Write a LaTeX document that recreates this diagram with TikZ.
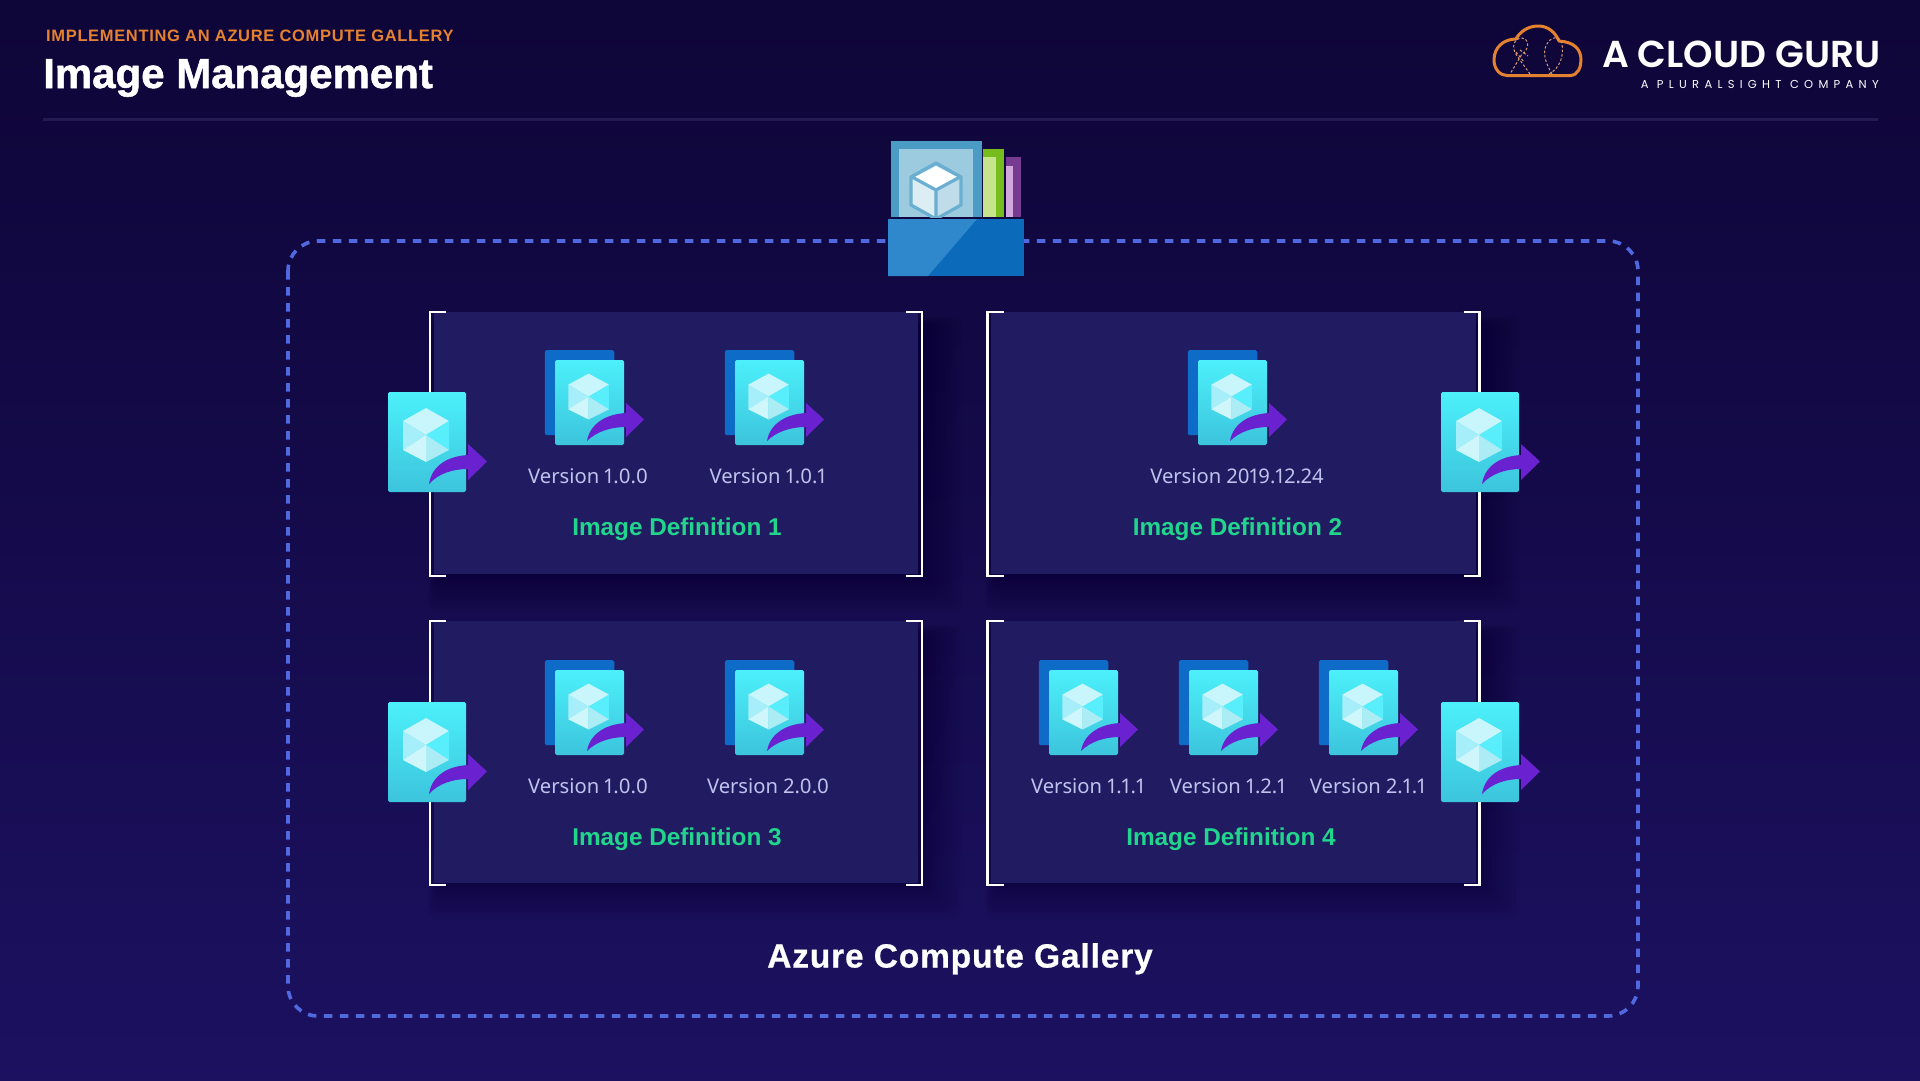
\documentclass[tikz,border=0pt]{standalone}
\usepackage{fontspec}
\setmainfont{Noto Sans}[Numbers=Proportional]
\newfontfamily\boldsans{Liberation Sans Bold}
\newfontfamily\gallfont{Liberation Sans Bold}[LetterSpace=2.5,FakeBold=0.6]
\newfontfamily\subfont{Liberation Sans Bold}[LetterSpace=4]
\newfontfamily\titlefont{Liberation Sans Bold}[LetterSpace=0,FakeBold=1.2]
\newfontfamily\logofont{Poppins SemiBold}
\newfontfamily\spacedfont{Poppins}[LetterSpace=46]
\usetikzlibrary{calc}
\definecolor{bgtop}{HTML}{0E0538}
\definecolor{bgbot}{HTML}{1C1160}
\definecolor{boxfill}{HTML}{211C62}
\definecolor{dashblue}{HTML}{5068E0}
\definecolor{orangeacg}{HTML}{E5822F}
\definecolor{greenlbl}{HTML}{22D58C}
\definecolor{verlbl}{HTML}{C0C2EE}
\definecolor{arrowpurple}{HTML}{6A22D0}
\definecolor{ruleclr}{HTML}{221C52}
\definecolor{icontop}{HTML}{4CF0FB}
\definecolor{iconbot}{HTML}{3CC4DC}
\definecolor{stackback}{HTML}{0F6BC8}
\definecolor{facea}{HTML}{C8F6FC}
\definecolor{faceb}{HTML}{A6EFFA}
\definecolor{facec}{HTML}{58EEFB}
\definecolor{faced}{HTML}{CFF7FB}
\definecolor{facee}{HTML}{ACEDF5}
\definecolor{galA}{HTML}{4A9CC4}
\definecolor{galB}{HTML}{9CCBE0}
\definecolor{galL}{HTML}{DCEDF4}
\definecolor{galR}{HTML}{BFDCEA}
\definecolor{galS}{HTML}{6AAED0}
\definecolor{galGreen}{HTML}{76BC1D}
\definecolor{galGreenL}{HTML}{C6E48B}
\definecolor{galPurple}{HTML}{773A91}
\definecolor{galPurpleL}{HTML}{D4A6DE}
\definecolor{galBlue}{HTML}{0B6ABA}
\definecolor{galBlueL}{HTML}{2F87CC}
\tikzset{
  versionlbl/.style={font=\fontsize{20.2}{24}\selectfont, text=verlbl, inner sep=0pt, anchor=base},
  deflbl/.style={font=\fontsize{24.3}{28}\boldsans, text=greenlbl, inner sep=0pt, anchor=base},
  bracket/.style={draw=white, line width=2.4pt},
  iconbody/.pic={
    \path[rounded corners=1.6pt, top color=icontop, bottom color=iconbot]
      (0,0) rectangle (78,100);
    \fill[facea] (38,16) -- (61,29) -- (38,43) -- (15,29) -- cycle;
    \fill[faceb] (15,29) -- (38,43) -- (15,58) -- cycle;
    \fill[facec] (61,29) -- (38,43) -- (61,58) -- cycle;
    \fill[faced] (15,58) -- (38,43) -- (38,70) -- cycle;
    \fill[facee] (61,58) -- (38,43) -- (38,70) -- cycle;
  },
  imgicon/.pic={
    \pic {iconbody};
    \fill[arrowpurple] (41,92) .. controls (44,72) and (62,64) .. (80,63)
      -- (80,52) -- (99,69.5) -- (80,88) -- (80,77) .. controls (64,77) and (50,82) .. cycle;
  },
  imgstack/.pic={
    \fill[rounded corners=1.6pt, fill=stackback] (-11.5,-11.5) rectangle (67,88.5);
    \pic {iconbody};
    \begin{scope}[x=1pt,y=-1pt]
    \fill[arrowpurple] (32,81) .. controls (35,63) and (52,54) .. (71,53)
      -- (71,43) -- (89,59.5) -- (71,77) -- (71,67) .. controls (55,67) and (41,72) .. cycle;
    \end{scope}
  },
}
\newcommand{\softbox}[2]{%
  \foreach \i in {1,...,10}{\fill[black, opacity=.017, rounded corners=8pt]
    ($(#1,#2)+(-\i*1+8,-\i*1+14)$) rectangle ($(#1,#2)+(492+\i*4,264+\i*3.5)$);}
  \fill[boxfill] (#1+3.5,#2) rectangle (#1+488,#2+262);
  \draw[bracket] (#1+16,#2) -- (#1,#2) -- (#1,#2+264) -- (#1+16,#2+264);
  \draw[bracket] (#1+476,#2) -- (#1+492,#2) -- (#1+492,#2+264) -- (#1+476,#2+264);
}
\begin{document}
\begin{tikzpicture}[x=1pt,y=-1pt]
\useasboundingbox (0,0) rectangle (1920,1080);
\shade[top color=bgtop, bottom color=bgbot] (0,0) rectangle (1920,1080);

% header
\node[anchor=base west, inner sep=0pt, text=orangeacg, font=\fontsize{16.5}{20}\subfont] (subtitle) at (46,41) {IMPLEMENTING AN AZURE COMPUTE GALLERY};
\node[anchor=base west, inner sep=0pt, text=white, font=\fontsize{42}{46}\titlefont] (title) at (43,88) {Image Management};
\draw[draw=ruleclr, line width=3pt] (43,119.5) -- (1878,119.5);

% logo
\draw[orangeacg, line width=3pt, line join=round]
  (1507,75.5) -- (1570,75.5) .. controls (1578,75.5) and (1581,67) .. (1581,60)
  .. controls (1581,49) and (1574,42) .. (1559,41)
  .. controls (1555,32) and (1548,26) .. (1538,26)
  .. controls (1527,26) and (1519,33) .. (1516,39)
  .. controls (1504,39) and (1494,47) .. (1494,60)
  .. controls (1494,69) and (1500,75.5) .. (1507,75.5) -- cycle;
\draw[orangeacg!65!verlbl, line width=1pt, dash pattern=on 2.5pt off 2pt]
  (1552,74) .. controls (1545,62) and (1541,50) .. (1549,41) .. controls (1554,36) and (1560,36) .. (1562,44) .. controls (1564,56) and (1560,68) .. (1549,74);
\draw[orangeacg!65!verlbl, line width=1pt, dash pattern=on 2.5pt off 2pt]
  (1530,74) -- (1517,56) .. controls (1510,46) and (1515,38) .. (1522,38) .. controls (1530,39) and (1529,50) .. (1522,54) -- (1510,74)
  (1520,50) -- (1528,56) (1516,52) -- (1524,62);
\node[anchor=base east, inner sep=0pt, text=white, font=\fontsize{37.5}{40}\logofont] (logo) at (1880.5,67.5) {A CLOUD GURU};
\node[anchor=base east, inner sep=0pt, text=white, font=\fontsize{11.5}{14}\spacedfont] (logosub) at (1879,88) {A PLURALSIGHT COMPANY};

% gallery outline
\draw[dashblue, line width=3.6pt, dash pattern=on 8.5pt off 7.5pt, rounded corners=30pt] (288,241) rectangle (1638,1016);

% boxes
\softbox{430}{312}
\softbox{987.5}{312}
\softbox{430}{621}
\softbox{987.5}{621}

% gallery icon
\fill[fill=galA] (891,141) rectangle (982,217);
\fill[fill=galB] (899,149) rectangle (973,217);
\begin{scope}
\clip (899,149) rectangle (973,217);
\fill[galL] (936,189) -- (936,219) -- (912,205) -- (912,177) -- cycle;
\fill[galR] (936,189) -- (936,219) -- (960,205) -- (960,177) -- cycle;
\fill[white] (936,166) -- (957,177) -- (936,189) -- (915,177) -- cycle;
\draw[galS, line width=3.2pt, line join=round] (936,163) -- (961,177) -- (961,205) -- (936,219) -- (911,205) -- (911,177) -- cycle;
\draw[galS, line width=3.2pt] (912,177) -- (936,190) -- (960,177) (936,190) -- (936,219);
\end{scope}
\fill[galGreen] (983,149) rectangle (1004,217);
\fill[galGreenL] (983,157) rectangle (996,217);
\fill[galPurple] (1006,157) rectangle (1021,217);
\fill[galPurpleL] (1006,166) rectangle (1013,217);
\fill[galBlue] (888,219) rectangle (1024,276);
\fill[galBlueL] (888,219) -- (977,219) -- (928,276) -- (888,276) -- cycle;

% big icons
\foreach \px/\py in {388/392, 1441/392, 388/702, 1441/702}{
  \path (\px,\py) pic {imgicon};
}
% version icons
\foreach \px/\py in {555/360, 735/360, 1198/360, 555/670, 735/670, 1049/670, 1189/670, 1329/670}{
  \path (\px,\py) pic[x=.885pt,y=-.85pt] {imgstack};
}

% labels
\node[versionlbl] (v1a) at (588,483.5) {Version 1.0.0};
\node[versionlbl] (v1b) at (768,483.5) {Version 1.0.1};
\node[versionlbl] (v2a) at (1237,483.5) {Version 2019.12.24};
\node[versionlbl] (v3a) at (588,793.5) {Version 1.0.0};
\node[versionlbl] (v3b) at (768,793.5) {Version 2.0.0};
\node[versionlbl] (v4a) at (1088,793.5) {Version 1.1.1};
\node[versionlbl] (v4b) at (1228,793.5) {Version 1.2.1};
\node[versionlbl] (v4c) at (1368,793.5) {Version 2.1.1};
\node[deflbl] (d1) at (677,535.5) {Image Definition 1};
\node[deflbl] (d2) at (1237.5,535.5) {Image Definition 2};
\node[deflbl] (d3) at (677,845.5) {Image Definition 3};
\node[deflbl] (d4) at (1231,845.5) {Image Definition 4};
\node[anchor=base, inner sep=0pt, text=white, font=\fontsize{33.5}{38}\gallfont] (gallery) at (960,967.5) {Azure Compute Gallery};
\end{tikzpicture}
\end{document}
